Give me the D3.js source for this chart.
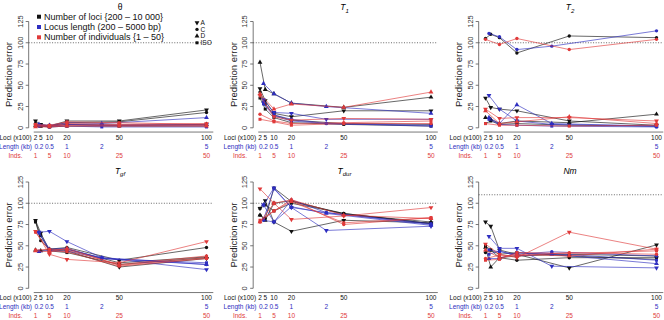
<!DOCTYPE html>
<html>
<head>
<meta charset="utf-8">
<script src="https://cdn.jsdelivr.net/npm/d3@7"></script>
<style>
  body { margin: 0; background: #fff; }
  svg { display: block; font-family: "Liberation Sans", Arial, sans-serif; }
</style>
</head>
<body>
<svg id="chart" width="664" height="320"></svg>
<script>
// x positions (Loci x100 scale) for each factor
const lociX = [2, 5, 10, 20, 50, 100];
const lengthX = [4, 10, 20, 40, 100];   // kb * 20
const indsX = [2, 10, 20, 50, 100];     // inds * 2

const lociTicks = ["2", "5", "10", "20", "50", "100"];
const lengthTicks = ["0.2", "0.5", "1", "2", "5"];
const indsTicks = ["1", "5", "10", "25", "50"];
const yTicks = [0, 25, 50, 75, 100, 125];

const models = ["A", "C", "D", "ISO"];
const factorNames = ["Number of loci {200 \u2013 10 000}", "Locus length (200 \u2013 5000 bp)", "Number of individuals {1 \u2013 50}"];

const titleMain = ["\u03b8", "T", "T", "T", "T", "Nm"];
const titleSub = ["", "1", "2", "gf", "dur", ""];
const refLines = [100, 100, 100, 100, 100, 110];

// rows = A, C, D, ISO
const thetaLoci = [[8, 4, 2, 8, 8, 21], [5, 3, 2, 6, 7, 18], [3, 2, 2, 4, 3, 4], [2, 2, 1, 2, 2, 2]];
const thetaLength = [[3, 2, 4, 3, 4], [3, 2, 4, 3, 3], [4, 3, 6, 5, 12], [2, 1, 2, 1, 1]];
const thetaInds = [[3, 2, 5, 4, 5], [2, 2, 3, 3, 3], [1, 1, 2, 2, 2], [4, 3, 7, 6, 4]];

const t1Loci = [[46, 32, 17, 13, 20, 20], [42, 28, 15, 9, 5, 4], [77, 45, 40, 29, 24, 36], [35, 22, 12, 6, 4, 2]];
const t1Length = [[33, 18, 17, 10, 10], [30, 15, 10, 5, 3], [52, 40, 29, 25, 17], [28, 14, 8, 5, 2]];
const t1Inds = [[38, 13, 9, 11, 10], [16, 8, 5, 6, 8], [40, 22, 28, 24, 42], [10, 7, 3, 5, 5]];

const t2Loci = [[35, 24, 22, 20, 8, 3], [105, 110, 106, 88, 108, 106], [12, 10, 5, 8, 6, 16], [5, 8, 4, 5, 3, 2]];
const t2Length = [[38, 22, 8, 4, 2], [111, 107, 92, 96, 114], [12, 5, 27, 5, 2], [10, 4, 3, 2, 1]];
const t2Inds = [[22, 11, 12, 12, 8], [104, 98, 105, 92, 104], [20, 5, 7, 13, 5], [5, 3, 3, 2, 3]];

const tgfLoci = [[80, 65, 45, 44, 25, 35], [79, 56, 46, 48, 33, 48], [45, 44, 46, 46, 30, 37], [78, 62, 44, 42, 28, 36]];
const tgfLength = [[66, 67, 55, 36, 22], [66, 46, 47, 35, 28], [43, 45, 46, 36, 28], [65, 44, 44, 35, 30]];
const tgfInds = [[67, 40, 34, 30, 55], [45, 46, 45, 28, 38], [44, 43, 47, 27, 36], [66, 44, 43, 26, 35]];

const tdurLoci = [[94, 103, 78, 67, 80, 77], [86, 82, 118, 102, 88, 76], [86, 80, 100, 103, 87, 78], [94, 98, 91, 100, 88, 76]];
const tdurLength = [[98, 118, 95, 68, 73], [80, 78, 104, 89, 75], [98, 78, 96, 88, 74], [81, 117, 95, 89, 76]];
const tdurInds = [[117, 100, 81, 85, 95], [78, 91, 104, 75, 83], [78, 100, 104, 86, 82], [80, 91, 102, 77, 83]];

const nmLoci = [[78, 73, 45, 40, 24, 51], [42, 45, 36, 33, 36, 36], [48, 25, 36, 38, 40, 38], [50, 45, 40, 42, 38, 34]];
const nmLength = [[61, 47, 47, 26, 24], [45, 43, 40, 43, 38], [35, 35, 42, 40, 29], [40, 44, 38, 41, 33]];
const nmInds = [[52, 40, 36, 66, 46], [35, 39, 38, 42, 40], [45, 36, 40, 38, 46], [33, 34, 42, 41, 44]];

const panelData = [
    [thetaLoci, thetaLength, thetaInds],
    [t1Loci, t1Length, t1Inds],
    [t2Loci, t2Length, t2Inds],
    [tgfLoci, tgfLength, tgfInds],
    [tdurLoci, tdurLength, tdurInds],
    [nmLoci, nmLength, nmInds]
];

const svg = d3.select("#chart");
const colOff = [0, 224.5, 450], rowOff = [0, 160.5];
const factorX = [lociX, lengthX, indsX];
const factorColor = ["#111111", "#2e2ec0", "#e03a3a"];
const axisColor = "#555";

const x = d3.scaleLinear().domain([0, 100]).range([32, 206.5]);
const y = d3.scaleLinear().domain([0, 125]).range([127.8, 21.5]);
const plotLeft = x(-1.9), plotRight = x(103.9), plotBottom = y(-5), plotTop = y(130);

function symbolPath(model) {
    if (model === "C") return d3.symbol(d3.symbolCircle, 9)();
    if (model === "ISO") return d3.symbol(d3.symbolSquare, 9)();
    return d3.symbol(d3.symbolTriangle, 10)();
}
function symbolRot(model) { return model === "A" ? 180 : 0; }

panelData.forEach((series, p) => {
    const g = svg.append("g")
        .attr("transform", `translate(${colOff[p % 3]},${rowOff[Math.floor(p / 3)]})`);

    // title
    const title = g.append("text")
        .attr("x", 120).attr("y", p < 3 ? 10 : 13)
        .attr("text-anchor", "middle")
        .style("font-size", "8.5px")
        .style("font-style", p === 0 ? "normal" : "italic");
    title.append("tspan").text(titleMain[p]);
    if (titleSub[p]) title.append("tspan").attr("dy", 2.5).style("font-size", "6px").text(titleSub[p]);

    // y axis
    g.append("line").attr("x1", plotLeft).attr("x2", plotLeft)
        .attr("y1", y(0)).attr("y2", y(125)).attr("stroke", axisColor).attr("stroke-width", 0.8);
    yTicks.forEach(t => {
        g.append("line").attr("x1", plotLeft - 3).attr("x2", plotLeft)
            .attr("y1", y(t)).attr("y2", y(t)).attr("stroke", axisColor).attr("stroke-width", 0.8);
        g.append("text")
            .attr("transform", `translate(${plotLeft - 6},${y(t)}) rotate(-90)`)
            .attr("text-anchor", "middle")
            .style("font-size", "7.5px").attr("fill", "#333")
            .text(t);
    });
    g.append("text")
        .attr("transform", `translate(${12},${(plotTop + plotBottom) / 2}) rotate(-90)`)
        .attr("text-anchor", "middle")
        .style("font-size", "9.5px").attr("fill", "#222")
        .text("Prediction error");

    // x axis
    g.append("line").attr("x1", x(1)).attr("x2", plotRight)
        .attr("y1", plotBottom).attr("y2", plotBottom).attr("stroke", axisColor).attr("stroke-width", 0.8);
    const rowLabels = ["Loci (x100)", "Length (kb)", "Inds."];
    const rowTicks = [lociTicks, lengthTicks, indsTicks];
    rowLabels.forEach((lab, r) => {
        const ty = plotBottom + 7.5 + r * 9.2;
        g.append("text").attr("x", 15.5).attr("y", ty)
            .attr("text-anchor", "middle").style("font-size", "6.5px")
            .attr("fill", factorColor[r]).text(lab);
        rowTicks[r].forEach((t, i) => {
            g.append("text").attr("x", x(factorX[r][i])).attr("y", ty)
                .attr("text-anchor", "middle").style("font-size", "6.5px")
                .attr("fill", factorColor[r]).text(t);
        });
    });

    // reference line
    g.append("line").attr("x1", plotLeft).attr("x2", plotRight)
        .attr("y1", y(refLines[p])).attr("y2", y(refLines[p]))
        .attr("stroke", "#444").attr("stroke-width", 0.8).attr("stroke-dasharray", "1,1.6");

    // lines and points
    series.forEach((rows, f) => {
        rows.forEach((vals, m) => {
            const pts = vals.map((v, i) => [x(factorX[f][i]), y(v)]);
            g.append("path")
                .attr("d", d3.line()(pts))
                .attr("fill", "none")
                .attr("stroke", factorColor[f])
                .attr("stroke-opacity", 0.8)
                .attr("stroke-width", 0.8);
            g.selectAll(null).data(pts).join("path")
                .attr("d", symbolPath(models[m]))
                .attr("transform", d => `translate(${d[0]},${d[1]}) rotate(${symbolRot(models[m])})`)
                .attr("fill", factorColor[f]);
        });
    });
});

// factor legend (first panel)
const legend = svg.append("g");
factorNames.forEach((name, i) => {
    const ly = 16.7 + i * 10.3;
    legend.append("rect").attr("x", 37).attr("y", ly - 2).attr("width", 4).attr("height", 4)
        .attr("fill", factorColor[i]);
    legend.append("text").attr("x", 44).attr("y", ly + 3)
        .style("font-size", "9px").attr("fill", "#111").text(name);
});

// model legend
models.forEach((m, i) => {
    const ly = 22.7 + i * 6.7;
    legend.append("path")
        .attr("d", symbolPath(m))
        .attr("transform", `translate(197,${ly}) rotate(${symbolRot(m)})`)
        .attr("fill", "#111");
    legend.append("text").attr("x", 200.5).attr("y", ly + 2.2)
        .style("font-size", "6.5px").attr("fill", "#111").text(m);
});
</script>
</body>
</html>
